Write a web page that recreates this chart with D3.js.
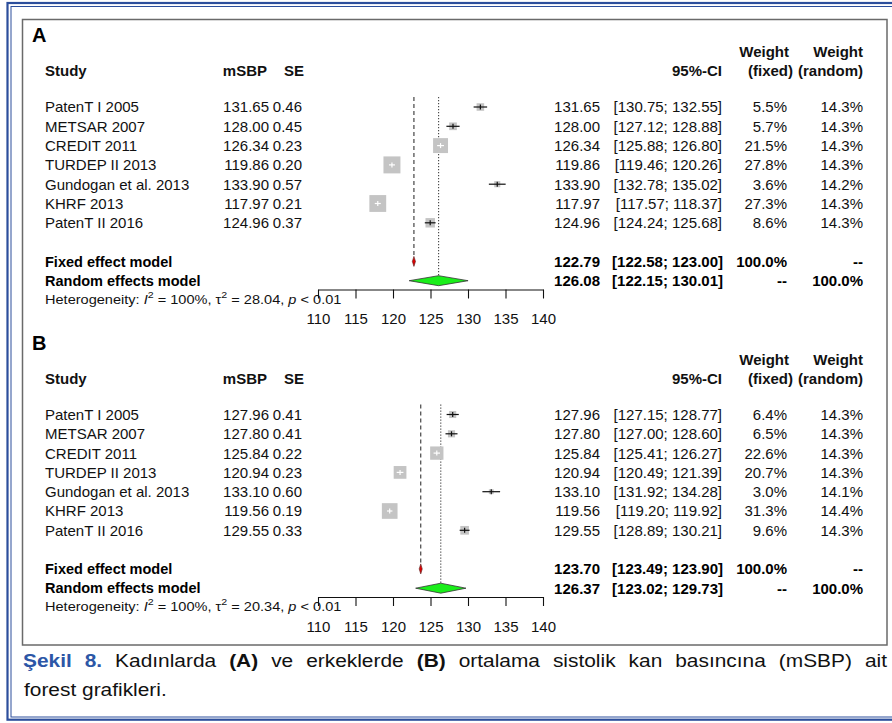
<!DOCTYPE html>
<html><head><meta charset="utf-8">
<script src="https://cdn.jsdelivr.net/npm/d3@7"></script>
<style>body{margin:0;background:#fff}svg{display:block}</style>
</head><body>
<svg id="c" width="892" height="723"></svg>
<script>
// ---------- DATA ----------
const studies = ["PatenT I 2005","METSAR 2007","CREDIT 2011","TURDEP II 2013","Gundogan et al. 2013","KHRF 2013","PatenT II 2016"];
const axisTicks = [110,115,120,125,130,135,140];

// Panel A (women)
const meanA   = [131.65,128.00,126.34,119.86,133.90,117.97,124.96];
const seA     = [0.46,0.45,0.23,0.20,0.57,0.21,0.37];
const lowerA  = [130.75,127.12,125.88,119.46,132.78,117.57,124.24];
const upperA  = [132.55,128.88,126.80,120.26,135.02,118.37,125.68];
const wFixedA = [5.5,5.7,21.5,27.8,3.6,27.3,8.6];
const wRandA  = [14.3,14.3,14.3,14.3,14.2,14.3,14.3];
const fixedA  = [122.79,122.58,123.00];
const randomA = [126.08,122.15,130.01];
const hetA    = ["100%","28.04","0.01"];

// Panel B (men)
const meanB   = [127.96,127.80,125.84,120.94,133.10,119.56,129.55];
const seB     = [0.41,0.41,0.22,0.23,0.60,0.19,0.33];
const lowerB  = [127.15,127.00,125.41,120.49,131.92,119.20,128.89];
const upperB  = [128.77,128.60,126.27,121.39,134.28,119.92,130.21];
const wFixedB = [6.4,6.5,22.6,20.7,3.0,31.3,9.6];
const wRandB  = [14.3,14.3,14.3,14.3,14.1,14.4,14.3];
const fixedB  = [123.70,123.49,123.90];
const randomB = [126.37,123.02,129.73];
const hetB    = ["100%","20.34","0.01"];

// ---------- DRAW ----------
const FONT = "'Liberation Sans', Arial, Helvetica, sans-serif";
const svg = d3.select("#c");
const x = d3.scaleLinear().domain([110,140]).range([318,543]);
const rowStep = 19.3;

// frames
svg.append("rect").attr("x",7.5).attr("y",3).attr("width",1000).attr("height",716.7)
  .attr("fill","none").attr("stroke","#2c4e9c").attr("stroke-width",2.2);
svg.append("rect").attr("x",11).attr("y",6.5).attr("width",1000).attr("height",710.5)
  .attr("fill","none").attr("stroke","#2c4e9c").attr("stroke-width",1);
svg.append("rect").attr("x",22.5).attr("y",19.5).attr("width",864.5).attr("height",625.5)
  .attr("fill","none").attr("stroke","#6a6a6a").attr("stroke-width",1.5);

function T(g, s, xp, yc, o={}) {
  const fs = o.size || 15;
  const sx = o.sx || 1;
  return g.append("text")
    .attr("transform",`translate(${xp},${yc + 0.36*fs}) scale(${sx},1)`)
    .attr("font-family",FONT).attr("font-size",fs)
    .attr("font-weight",o.bold?"bold":"normal")
    .attr("text-anchor",o.anchor||"start").attr("fill",o.fill||"#111").text(s);
}
const f2 = v => v.toFixed(2);
const pct = v => v.toFixed(1) + "%";

function drawPanel(p) {
  const g = svg.append("g");
  const y = i => p.top + i*rowStep;
  T(g, p.label, 32, p.top-72, {size:20, bold:true, fill:"#000"});
  // headers
  const hy = p.top-36, hy1 = p.top-55;
  T(g,"Study",45,hy,{bold:true});
  T(g,"mSBP",267,hy,{bold:true,anchor:"end"});
  T(g,"SE",304,hy,{bold:true,anchor:"end"});
  T(g,"95%-CI",722,hy,{bold:true,anchor:"end"});
  T(g,"Weight",789,hy1,{bold:true,anchor:"end"});
  T(g,"(fixed)",793,hy,{bold:true,anchor:"end"});
  T(g,"Weight",863,hy1,{bold:true,anchor:"end"});
  T(g,"(random)",863,hy,{bold:true,anchor:"end"});

  const yF = y(8), yR = y(9), dh = 5;
  // reference lines
  g.append("line").attr("x1",x(p.fixed[0])).attr("x2",x(p.fixed[0]))
    .attr("y1",p.top-10).attr("y2",yF-dh).attr("stroke","#333").attr("stroke-width",1.1)
    .attr("stroke-dasharray","4,3");
  g.append("line").attr("x1",x(p.random[0])).attr("x2",x(p.random[0]))
    .attr("y1",p.top-10).attr("y2",yR-dh).attr("stroke","#444").attr("stroke-width",1.1)
    .attr("stroke-dasharray","1.3,1.7");

  studies.forEach((s,i) => {
    const yy = y(i);
    T(g, s, 45, yy);
    T(g, f2(p.mean[i]), 269, yy, {anchor:"end"});
    T(g, f2(p.se[i]), 302, yy, {anchor:"end"});
    T(g, f2(p.mean[i]), 600, yy, {anchor:"end"});
    T(g, "[" + f2(p.lower[i]) + "; " + f2(p.upper[i]) + "]", 722, yy, {anchor:"end"});
    T(g, pct(p.wf[i]), 787, yy, {anchor:"end"});
    T(g, pct(p.wr[i]), 863, yy, {anchor:"end"});
    const side = p.k*Math.sqrt(p.wf[i]);
    const cx = x(p.mean[i]);
    g.append("rect").attr("x",cx-side/2).attr("y",yy-side/2).attr("width",side).attr("height",side)
      .attr("fill","#c4c4c4");
    const inside = (x(p.upper[i]) - x(p.lower[i])) < side;
    const col = inside ? "#fff" : "#111";
    g.append("line").attr("x1",x(p.lower[i])).attr("x2",x(p.upper[i])).attr("y1",yy).attr("y2",yy)
      .attr("stroke",col).attr("stroke-width",1.2);
    g.append("line").attr("x1",cx).attr("x2",cx).attr("y1",yy-2.5).attr("y2",yy+2.5)
      .attr("stroke",col).attr("stroke-width",1.2);
  });

  // summary rows
  T(g,"Fixed effect model",45,yF,{bold:true,size:14.5,fill:"#000"});
  T(g,"Random effects model",45,yR,{bold:true,size:14.5,fill:"#000"});
  T(g, f2(p.fixed[0]),600,yF,{bold:true,anchor:"end",fill:"#000"});
  T(g, "[" + f2(p.fixed[1]) + "; " + f2(p.fixed[2]) + "]",723,yF,{bold:true,anchor:"end",fill:"#000"});
  T(g, "100.0%",787,yF,{bold:true,anchor:"end",fill:"#000"});
  T(g, "--",863,yF,{bold:true,anchor:"end",fill:"#000"});
  T(g, f2(p.random[0]),600,yR,{bold:true,anchor:"end",fill:"#000"});
  T(g, "[" + f2(p.random[1]) + "; " + f2(p.random[2]) + "]",723,yR,{bold:true,anchor:"end",fill:"#000"});
  T(g, "--",787,yR,{bold:true,anchor:"end",fill:"#000"});
  T(g, "100.0%",863,yR,{bold:true,anchor:"end",fill:"#000"});

  const diamond = (d, yc) => `M${x(d[1])},${yc} L${x(d[0])},${yc-dh} L${x(d[2])},${yc} L${x(d[0])},${yc+dh} Z`;
  g.append("path").attr("d",diamond(p.fixed,yF)).attr("fill","#e00000").attr("stroke","#552222").attr("stroke-width",0.6);
  g.append("path").attr("d",diamond(p.random,yR)).attr("fill","#1aee1a").attr("stroke","#333").attr("stroke-width",0.8);

  // axis
  const ax = g.append("g").attr("transform",`translate(0,${p.top+182.5})`)
    .call(d3.axisBottom(x).tickValues(axisTicks).tickSize(9).tickSizeOuter(0).tickPadding(15));
  ax.selectAll("path,line").attr("stroke","#111").attr("stroke-width",1.1);
  ax.selectAll("text").attr("font-family",FONT).attr("font-size",15).attr("fill","#111");

  // heterogeneity
  const ht = g.append("text").attr("transform",`translate(45,${p.top+192+4.7}) scale(1.12,1)`)
    .attr("font-family",FONT).attr("font-size",13).attr("fill","#111");
  ht.append("tspan").text("Heterogeneity: ");
  ht.append("tspan").attr("font-style","italic").text("I");
  ht.append("tspan").attr("font-size",9.5).attr("dy",-6).text("2");
  ht.append("tspan").attr("dy",6).text(" = " + p.het[0] + ", \u03C4");
  ht.append("tspan").attr("font-size",9.5).attr("dy",-6).text("2");
  ht.append("tspan").attr("dy",6).text(" = " + p.het[1] + ", ");
  ht.append("tspan").attr("font-style","italic").text("p");
  ht.append("tspan").text(" < " + p.het[2]);
}

drawPanel({label:"A", top:107, mean:meanA, se:seA, lower:lowerA, upper:upperA, wf:wFixedA, wr:wRandA,
  fixed:fixedA, random:randomA, het:hetA, k:3.22});
drawPanel({label:"B", top:414.5, mean:meanB, se:seB, lower:lowerB, upper:upperB, wf:wFixedB, wr:wRandB,
  fixed:fixedB, random:randomB, het:hetB, k:2.8});

// ---------- CAPTION ----------
const CAP_SX = 1.13, CAP_FS = 18.5;
const capWords = [
  {t:"Şekil", b:true, blue:true},{t:"8.", b:true, blue:true},{t:"Kadınlarda"},{t:"(A)", b:true},
  {t:"ve"},{t:"erkeklerde"},{t:"(B)", b:true},{t:"ortalama"},{t:"sistolik"},{t:"kan"},
  {t:"basıncına"},{t:"(mSBP)"},{t:"ait"}];
const capG = svg.append("g");
const nodes = capWords.map(w => capG.append("text").attr("font-family",FONT)
  .attr("font-size",CAP_FS).attr("font-weight",w.b?"bold":"normal")
  .attr("fill",w.blue?"#2c56a6":"#111").text(w.t));
const widths = nodes.map(n => n.node().getComputedTextLength() * CAP_SX);
const gap = (887 - 23 - d3.sum(widths)) / (nodes.length - 1);
let cxp = 23;
nodes.forEach((n,i) => {
  n.attr("transform",`translate(${cxp},667) scale(${CAP_SX},1)`);
  cxp += widths[i] + gap;
});
capG.append("text").attr("transform",`translate(24,696) scale(${CAP_SX},1)`)
  .attr("font-family",FONT).attr("font-size",CAP_FS)
  .attr("fill","#111").text("forest grafikleri.");
</script>
</body></html>
